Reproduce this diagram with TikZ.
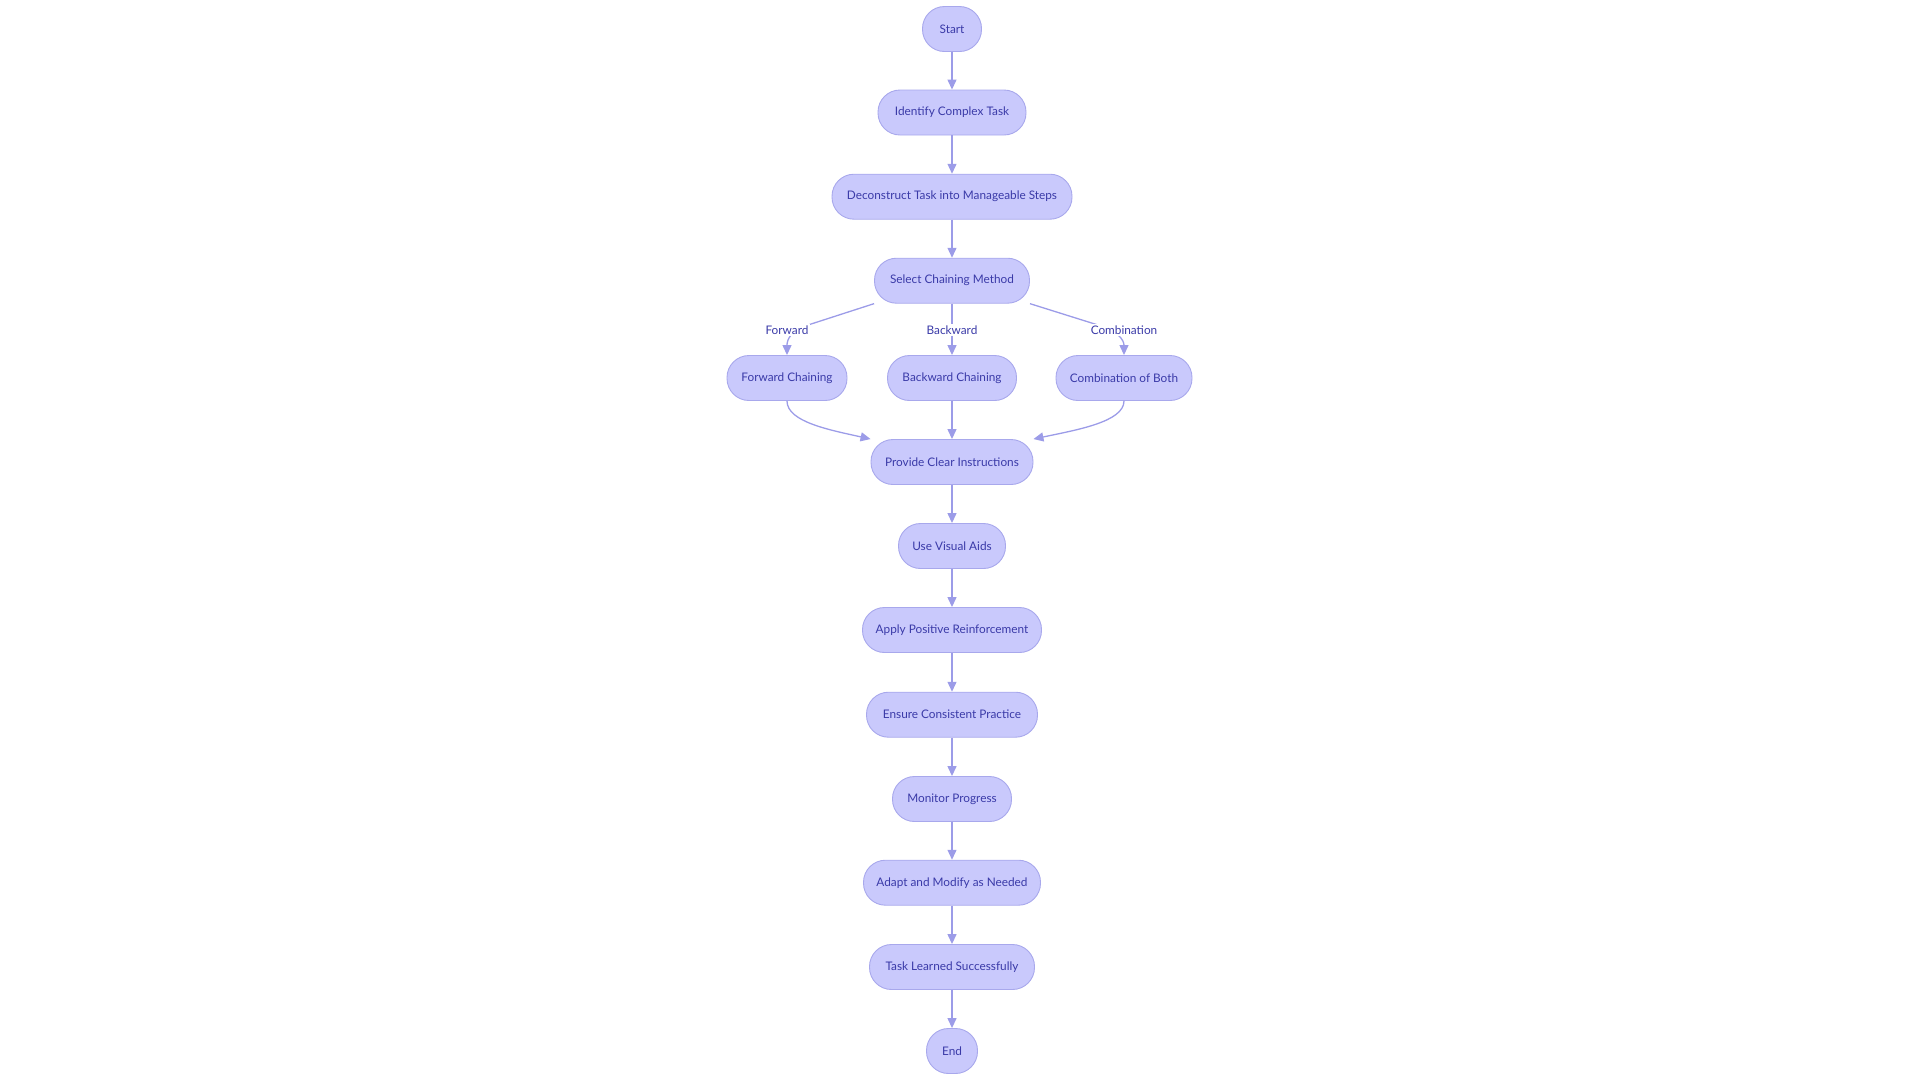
\documentclass[tikz,border=0pt]{standalone}
\usepackage{fontspec}
\setmainfont{Lato}
\usetikzlibrary{arrows.meta}
\definecolor{nodefill}{RGB}{201,201,252}
\definecolor{nodeline}{RGB}{168,168,236}
\definecolor{edgecol}{RGB}{156,156,232}
\definecolor{txtcol}{RGB}{58,58,168}
\tikzset{
  stepbox/.style={draw=nodeline, line width=0.9pt, fill=nodefill, rounded corners=22pt,
    minimum height=45pt, inner sep=0pt, text=txtcol, font=\fontsize{11.8}{13}\selectfont},
  flow/.style={draw=edgecol, line width=1.3pt, -{Triangle[length=10pt,width=9pt]}},
  elabel/.style={fill=white, inner sep=1.5pt, text=txtcol, font=\fontsize{11.8}{13}\selectfont}
}
\begin{document}
\begin{tikzpicture}[x=1pt,y=-1pt]
\useasboundingbox (0,0) rectangle (1920,1080);
\node[stepbox, minimum width=59pt]  (start)       at (952,29)    {Start};
\node[stepbox, minimum width=148pt] (identify)    at (952,112.5) {Identify Complex Task};
\node[stepbox, minimum width=240pt] (deconstruct) at (952,196.7) {Deconstruct Task into Manageable Steps};
\node[stepbox, minimum width=155pt] (select)      at (952,280.7) {Select Chaining Method};
\node[stepbox, minimum width=120pt] (fwd)         at (787,378)   {Forward Chaining};
\node[stepbox, minimum width=129pt] (bwd)         at (952,378)   {Backward Chaining};
\node[stepbox, minimum width=136pt] (comb)        at (1124,378)  {Combination of Both};
\node[stepbox, minimum width=162pt] (provide)     at (952,462)   {Provide Clear Instructions};
\node[stepbox, minimum width=107pt] (visual)      at (952,546)   {Use Visual Aids};
\node[stepbox, minimum width=179pt] (apply)       at (952,630)   {Apply Positive Reinforcement};
\node[stepbox, minimum width=171pt] (ensure)      at (952,714.7) {Ensure Consistent Practice};
\node[stepbox, minimum width=119pt] (monitor)     at (952,799)   {Monitor Progress};
\node[stepbox, minimum width=177pt] (adapt)       at (952,882.7) {Adapt and Modify as Needed};
\node[stepbox, minimum width=165pt] (learned)     at (952,967)   {Task Learned Successfully};
\node[stepbox, minimum width=51pt]  (stop)        at (952,1051)  {End};

\draw[flow] (start) -- (identify);
\draw[flow] (identify) -- (deconstruct);
\draw[flow] (deconstruct) -- (select);
\coordinate (fa) at (808,325);
\coordinate (ca) at (1098,325);
\draw[flow] (select.south west) -- (fa) .. controls (790,331) and (787,340) .. (fwd.north);
\draw[flow] (select) -- (bwd);
\draw[flow] (select.south east) -- (ca) .. controls (1118,331) and (1124,340) .. (comb.north);
\node[elabel] (lf) at (787,330) {Forward};
\node[elabel] (lb) at (952,330) {Backward};
\node[elabel] (lc) at (1124,330) {Combination};
\draw[flow] (fwd.south) .. controls (787,422) and (830,430) .. (provide.north west);
\draw[flow] (bwd) -- (provide);
\draw[flow] (comb.south) .. controls (1124,422) and (1076,430) .. (provide.north east);
\draw[flow] (provide) -- (visual);
\draw[flow] (visual) -- (apply);
\draw[flow] (apply) -- (ensure);
\draw[flow] (ensure) -- (monitor);
\draw[flow] (monitor) -- (adapt);
\draw[flow] (adapt) -- (learned);
\draw[flow] (learned) -- (stop);
\end{tikzpicture}
\end{document}
